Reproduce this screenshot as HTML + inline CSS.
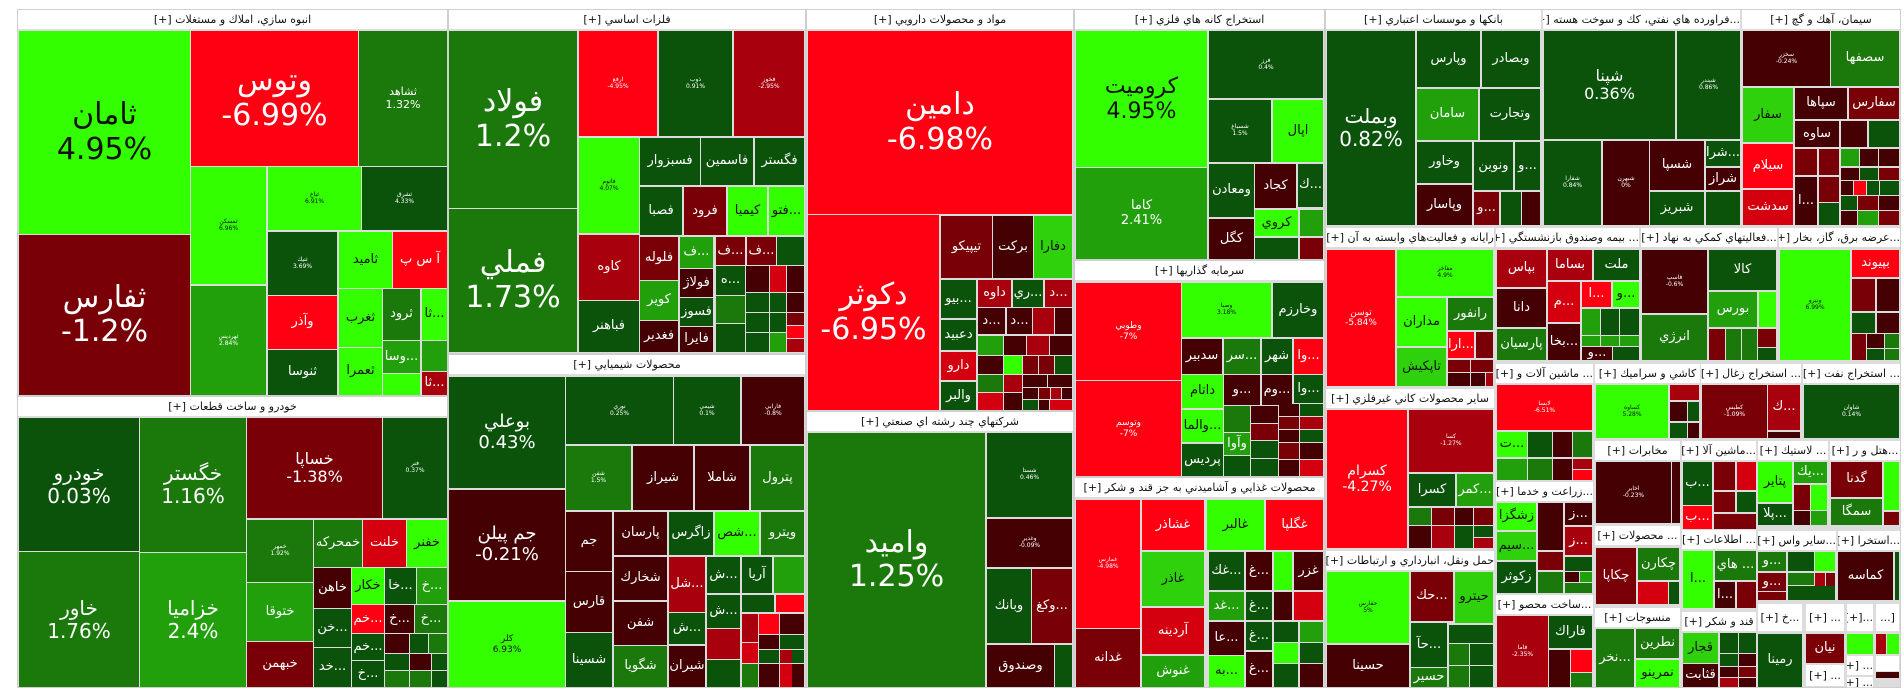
<!DOCTYPE html>
<html><head><meta charset="utf-8">
<style>
body{margin:0;width:1904px;height:698px;background:#fff;position:relative;overflow:hidden;font-family:"DejaVu Sans","Liberation Sans",sans-serif}
.s{position:absolute;background:#dcdcdc;border:1px solid #cfcfcf;box-sizing:border-box}
.h{position:absolute;background:#fff;color:#111;font-size:11px;text-align:center;line-height:20px;height:20px;white-space:nowrap;overflow:hidden;direction:rtl;border-bottom:1px solid #ddd;box-sizing:border-box}
.t{position:absolute;display:flex;align-items:center;justify-content:center;text-align:center;color:#fff;overflow:hidden;font-size:13px;line-height:1.15;white-space:nowrap;direction:ltr}
.x{font-size:6px}.L{font-size:30px}.M{font-size:20px}.m{font-size:16px}.n{font-size:14px}.k{font-size:9px}
.b{background:#33ff00;color:#111}.g2{background:#2ed10c;color:#111}.g3{background:#22a00c}.g4{background:#1b780a}.g5{background:#0b520b}
.r1{background:#ff0013}.r2{background:#d40010}.r3{background:#a8000c}.r4{background:#7a0008}.r5{background:#450004}
</style></head><body>
<div class="s" style="left:17px;top:9px;width:431px;height:387px"></div>
<div class="s" style="left:17px;top:396px;width:431px;height:292px"></div>
<div class="s" style="left:448px;top:9px;width:358px;height:345px"></div>
<div class="s" style="left:448px;top:354px;width:358px;height:334px"></div>
<div class="s" style="left:806px;top:9px;width:268px;height:402px"></div>
<div class="s" style="left:806px;top:411px;width:268px;height:277px"></div>
<div class="s" style="left:1074px;top:9px;width:251px;height:251px"></div>
<div class="s" style="left:1074px;top:260px;width:251px;height:217px"></div>
<div class="s" style="left:1074px;top:477px;width:251px;height:211px"></div>
<div class="s" style="left:1325px;top:9px;width:576px;height:679px"></div>

<div class="h" style="left:18px;top:10px;width:429px">انبوه سازي، املاك و مستغلات [+]</div>
<div class="h" style="left:18px;top:397px;width:429px">خودرو و ساخت قطعات [+]</div>
<div class="h" style="left:449px;top:10px;width:356px">فلزات اساسي [+]</div>
<div class="h" style="left:449px;top:355px;width:356px">محصولات شيميايي [+]</div>
<div class="h" style="left:807px;top:10px;width:266px">مواد و محصولات دارويي [+]</div>
<div class="h" style="left:807px;top:412px;width:266px">شركتهاي چند رشته اي صنعتي [+]</div>
<div class="h" style="left:1075px;top:10px;width:249px">استخراج كانه هاي فلزي [+]</div>
<div class="h" style="left:1075px;top:261px;width:249px">سرمايه گذاريها [+]</div>
<div class="h" style="left:1075px;top:478px;width:249px">محصولات غذايي و آشاميدني به جز قند و شكر [+]</div>
<div class="h" style="left:1326px;top:10px;width:215px">بانكها و موسسات اعتباري [+]</div>
<div class="h" style="left:1543px;top:10px;width:197px">...فراورده هاي نفتي، كك و سوخت هسته [+]</div>
<div class="h" style="left:1742px;top:10px;width:158px">سيمان، آهك و گچ [+]</div>
<div class="h" style="left:1326px;top:228px;width:168px">رايانه و فعاليت‌هاي وابسته به آن [+]</div>
<div class="h" style="left:1326px;top:389px;width:168px">ساير محصولات كاني غيرفلزي [+]</div>
<div class="h" style="left:1326px;top:551px;width:168px">حمل ونقل، انبارداري و ارتباطات [+]</div>
<div class="h" style="left:1496px;top:228px;width:143px">... بيمه وصندوق بازنشستگي [+]</div>
<div class="h" style="left:1641px;top:228px;width:136px">...فعاليتهاي كمكي به نهاد [+]</div>
<div class="h" style="left:1779px;top:228px;width:121px">...عرضه برق، گاز، بخار [+]</div>
<div class="h" style="left:1496px;top:364px;width:97px">... ماشين آلات و [+]</div>
<div class="h" style="left:1595px;top:364px;width:105px">كاشي و سراميك [+]</div>
<div class="h" style="left:1701px;top:364px;width:100px">... استخراج زغال [+]</div>
<div class="h" style="left:1803px;top:364px;width:97px">... استخراج نفت [+]</div>
<div class="h" style="left:1496px;top:482px;width:97px">...زراعت و خدما [+]</div>
<div class="h" style="left:1496px;top:595px;width:97px">...ساخت محصو [+]</div>
<div class="h" style="left:1595px;top:441px;width:85px">مخابرات [+]</div>
<div class="h" style="left:1595px;top:526px;width:85px">... محصولات [+]</div>
<div class="h" style="left:1595px;top:608px;width:85px">منسوجات [+]</div>
<div class="h" style="left:1682px;top:441px;width:74px">...ماشين آلا [+]</div>
<div class="h" style="left:1682px;top:530px;width:74px">... اطلاعات [+]</div>
<div class="h" style="left:1682px;top:612px;width:74px">قند و شكر [+]</div>
<div class="h" style="left:1758px;top:441px;width:70px">... لاستيك [+]</div>
<div class="h" style="left:1830px;top:441px;width:70px">...هتل و ر [+]</div>
<div class="h" style="left:1758px;top:531px;width:78px">...ساير واس [+]</div>
<div class="h" style="left:1838px;top:531px;width:62px">...استخرا [+]</div>
<div class="h" style="left:1758px;top:604px;width:44px;height:28px;line-height:28px">...خ [+]</div>
<div class="h" style="left:1806px;top:604px;width:38px;height:28px;line-height:28px">... [+]</div>
<div class="h" style="left:1847px;top:604px;width:26px;height:28px;line-height:28px">...[+]</div>
<div class="h" style="left:1876px;top:604px;width:23px;height:28px;line-height:28px">[...</div>
<div class="h" style="left:1806px;top:665px;width:38px;height:22px;line-height:22px">... [+]</div>
<div class="h" style="left:1847px;top:656px;width:26px;height:20px">... [+]</div>
<div class="h" style="left:1847px;top:677px;width:26px;height:11px;line-height:11px">... [+]</div>
<div class="h" style="left:1876px;top:656px;width:23px;height:16px"></div>

<div class="t b L" style="left:19px;top:31px;width:171px;height:203px">ثامان<br>4.95%</div>
<div class="t r4 L" style="left:19px;top:235px;width:171px;height:160px">ثفارس<br>-1.2%</div>
<div class="t r1 L" style="left:191px;top:31px;width:167px;height:135px">وتوس<br>-6.99%</div>
<div class="t g4 k" style="left:359px;top:31px;width:88px;height:135px;font-size:11px">ثشاهد<br>1.32%</div>
<div class="t b x" style="left:191px;top:167px;width:75px;height:117px">ثمسكن<br>6.96%</div>
<div class="t g3 x" style="left:191px;top:286px;width:75px;height:109px">ثهرديس<br>2.84%</div>
<div class="t b x" style="left:268px;top:167px;width:93px;height:63px">ثباغ<br>6.91%</div>
<div class="t g5 x" style="left:362px;top:167px;width:85px;height:63px">ثشرق<br>4.33%</div>
<div class="t g5 x" style="left:268px;top:232px;width:69px;height:63px">ثنيك<br>3.69%</div>
<div class="t b" style="left:339px;top:232px;width:53px;height:56px">ثاميد</div>
<div class="t r1" style="left:393px;top:232px;width:54px;height:56px">آ س پ</div>
<div class="t r1" style="left:268px;top:296px;width:69px;height:53px">وآذر</div>
<div class="t g5" style="left:268px;top:350px;width:69px;height:45px">ثنوسا</div>
<div class="t b" style="left:339px;top:289px;width:43px;height:58px">ثغرب</div>
<div class="t b" style="left:339px;top:348px;width:43px;height:47px">ثعمرا</div>
<div class="t g4" style="left:383px;top:289px;width:37px;height:51px">ثرود</div>
<div class="t b" style="left:422px;top:289px;width:25px;height:51px">ثا...</div>
<div class="t g3" style="left:383px;top:341px;width:37px;height:32px">وسا...</div>
<div class="t g3" style="left:422px;top:341px;width:25px;height:30px"></div>
<div class="t b" style="left:383px;top:374px;width:37px;height:21px"></div>
<div class="t r3" style="left:422px;top:372px;width:25px;height:23px">ثا...</div>
<div class="t g5 M" style="left:19px;top:418px;width:120px;height:133px">خودرو<br>0.03%</div>
<div class="t g4 M" style="left:19px;top:552px;width:120px;height:135px">خاور<br>1.76%</div>
<div class="t g4 M" style="left:140px;top:418px;width:106px;height:134px">خگستر<br>1.16%</div>
<div class="t g3 M" style="left:140px;top:553px;width:106px;height:134px">خزاميا<br>2.4%</div>
<div class="t r4 m" style="left:247px;top:418px;width:135px;height:100px">خساپا<br>-1.38%</div>
<div class="t g5 x" style="left:383px;top:418px;width:64px;height:100px">فنر<br>0.37%</div>
<div class="t g4 x" style="left:247px;top:520px;width:66px;height:62px">خمهر<br>1.92%</div>
<div class="t g3" style="left:247px;top:583px;width:66px;height:58px">ختوقا</div>
<div class="t r4" style="left:247px;top:642px;width:66px;height:45px">خبهمن</div>
<div class="t g4" style="left:314px;top:520px;width:48px;height:47px">خمحركه</div>
<div class="t r2" style="left:363px;top:520px;width:43px;height:47px">خلنت</div>
<div class="t b" style="left:407px;top:520px;width:40px;height:47px">خفنر</div>
<div class="t r5" style="left:314px;top:568px;width:37px;height:40px">خاهن</div>
<div class="t b" style="left:352px;top:568px;width:32px;height:36px">خكار</div>
<div class="t g5" style="left:385px;top:568px;width:31px;height:36px">خا...</div>
<div class="t g3" style="left:417px;top:568px;width:30px;height:36px">خ...</div>
<div class="t g5" style="left:314px;top:609px;width:37px;height:38px">خن...</div>
<div class="t r1" style="left:352px;top:605px;width:32px;height:28px">خم...</div>
<div class="t r5" style="left:385px;top:605px;width:29px;height:28px">خ...</div>
<div class="t g4" style="left:415px;top:605px;width:32px;height:28px">خ...</div>
<div class="t g5" style="left:314px;top:648px;width:37px;height:39px">خد...</div>
<div class="t g5" style="left:352px;top:634px;width:32px;height:26px">خم...</div>
<div class="t g5" style="left:352px;top:661px;width:32px;height:26px">خ...</div>
<div class="t r5" style="left:385px;top:634px;width:24px;height:19px"></div>
<div class="t g5" style="left:410px;top:634px;width:18px;height:19px"></div>
<div class="t g4" style="left:429px;top:634px;width:18px;height:19px"></div>
<div class="t g5" style="left:385px;top:654px;width:24px;height:16px"></div>
<div class="t r5" style="left:410px;top:654px;width:21px;height:16px"></div>
<div class="t g5" style="left:432px;top:654px;width:15px;height:16px"></div>
<div class="t g4" style="left:385px;top:671px;width:24px;height:16px"></div>
<div class="t g4" style="left:410px;top:671px;width:21px;height:16px"></div>
<div class="t g5" style="left:432px;top:671px;width:15px;height:16px"></div>
<div class="t g4 L" style="left:449px;top:31px;width:128px;height:177px">فولاد<br>1.2%</div>
<div class="t g4 L" style="left:449px;top:209px;width:128px;height:143px">فملي<br>1.73%</div>
<div class="t r1 x" style="left:579px;top:31px;width:78px;height:105px">ارفع<br>-4.95%</div>
<div class="t g5 x" style="left:659px;top:31px;width:73px;height:105px">ذوب<br>0.91%</div>
<div class="t r3 x" style="left:734px;top:31px;width:70px;height:105px">فخوز<br>-2.95%</div>
<div class="t b x" style="left:579px;top:138px;width:60px;height:95px">فاتوم<br>4.07%</div>
<div class="t g5" style="left:640px;top:138px;width:60px;height:47px">فسبزوار</div>
<div class="t g5" style="left:701px;top:138px;width:52px;height:47px">فاسمين</div>
<div class="t g5" style="left:755px;top:138px;width:49px;height:47px">فگستر</div>
<div class="t g5" style="left:640px;top:187px;width:42px;height:48px">فصبا</div>
<div class="t r4" style="left:684px;top:187px;width:42px;height:48px">فرود</div>
<div class="t b" style="left:728px;top:187px;width:39px;height:48px">كيميا</div>
<div class="t b" style="left:769px;top:187px;width:35px;height:48px">فتو...</div>
<div class="t r3" style="left:579px;top:235px;width:60px;height:65px">كاوه</div>
<div class="t g5" style="left:579px;top:301px;width:60px;height:51px">فباهنر</div>
<div class="t r4" style="left:640px;top:237px;width:38px;height:43px">فلوله</div>
<div class="t g3" style="left:640px;top:281px;width:38px;height:39px">كوير</div>
<div class="t r5" style="left:640px;top:321px;width:38px;height:31px">فغدير</div>
<div class="t g3" style="left:680px;top:237px;width:33px;height:31px">ف...</div>
<div class="t r5" style="left:680px;top:269px;width:33px;height:28px">فولاژ</div>
<div class="t g5" style="left:680px;top:298px;width:33px;height:28px">فسوز</div>
<div class="t r5" style="left:680px;top:327px;width:33px;height:25px">فايرا</div>
<div class="t r4" style="left:716px;top:237px;width:29px;height:28px">ف...</div>
<div class="t r4" style="left:747px;top:237px;width:29px;height:28px">ف...</div>
<div class="t g5" style="left:777px;top:237px;width:27px;height:28px"></div>
<div class="t g5" style="left:716px;top:266px;width:29px;height:29px">ه...</div>
<div class="t g4" style="left:716px;top:296px;width:29px;height:27px"></div>
<div class="t g5" style="left:716px;top:324px;width:29px;height:28px"></div>
<div class="t r5" style="left:746px;top:266px;width:23px;height:26px"></div>
<div class="t r2" style="left:770px;top:266px;width:16px;height:26px"></div>
<div class="t r5" style="left:787px;top:266px;width:17px;height:26px"></div>
<div class="t g5" style="left:746px;top:293px;width:23px;height:19px"></div>
<div class="t g5" style="left:770px;top:293px;width:16px;height:19px"></div>
<div class="t r5" style="left:787px;top:293px;width:17px;height:19px"></div>
<div class="t g5" style="left:746px;top:313px;width:23px;height:19px"></div>
<div class="t g5" style="left:770px;top:313px;width:16px;height:19px"></div>
<div class="t r4" style="left:787px;top:313px;width:17px;height:12px"></div>
<div class="t r1" style="left:787px;top:326px;width:17px;height:12px"></div>
<div class="t g5" style="left:746px;top:333px;width:23px;height:19px"></div>
<div class="t g3" style="left:770px;top:333px;width:16px;height:19px"></div>
<div class="t r3" style="left:787px;top:339px;width:17px;height:13px"></div>
<div class="t g5 M" style="left:449px;top:377px;width:116px;height:111px;font-size:18px">بوعلي<br>0.43%</div>
<div class="t r5 M" style="left:449px;top:490px;width:116px;height:110px;font-size:18px">جم پيلن<br>-0.21%</div>
<div class="t b k" style="left:449px;top:602px;width:116px;height:85px">كلر<br>6.93%</div>
<div class="t g5 x" style="left:566px;top:377px;width:107px;height:67px">نوري<br>0.25%</div>
<div class="t g5 x" style="left:674px;top:377px;width:66px;height:67px">شيمي<br>0.1%</div>
<div class="t r5 x" style="left:742px;top:377px;width:62px;height:67px">فارابي<br>-0.8%</div>
<div class="t g4 x" style="left:566px;top:446px;width:65px;height:64px">شفن<br>1.5%</div>
<div class="t r5" style="left:633px;top:446px;width:60px;height:64px">شيراز</div>
<div class="t r5" style="left:695px;top:446px;width:54px;height:64px">شاملا</div>
<div class="t g4" style="left:751px;top:446px;width:53px;height:64px">پترول</div>
<div class="t r5" style="left:566px;top:512px;width:46px;height:59px">جم</div>
<div class="t r5" style="left:566px;top:572px;width:46px;height:60px">قارس</div>
<div class="t g5" style="left:566px;top:633px;width:46px;height:54px">شسينا</div>
<div class="t r5" style="left:614px;top:512px;width:53px;height:43px">پارسان</div>
<div class="t g5" style="left:669px;top:512px;width:44px;height:43px">زاگرس</div>
<div class="t b" style="left:715px;top:512px;width:44px;height:43px">شص...</div>
<div class="t g4" style="left:761px;top:512px;width:43px;height:43px">ويترو</div>
<div class="t r5" style="left:614px;top:557px;width:53px;height:43px">شخارك</div>
<div class="t r5" style="left:614px;top:602px;width:53px;height:43px">شفن</div>
<div class="t g4" style="left:614px;top:646px;width:53px;height:41px">شگويا</div>
<div class="t r3" style="left:669px;top:557px;width:36px;height:55px">شل...</div>
<div class="t g5" style="left:669px;top:613px;width:36px;height:31px">ش...</div>
<div class="t r5" style="left:669px;top:646px;width:36px;height:41px">شيران</div>
<div class="t g5" style="left:707px;top:557px;width:33px;height:36px">ش...</div>
<div class="t g5" style="left:742px;top:557px;width:30px;height:36px">آريا</div>
<div class="t g3" style="left:774px;top:557px;width:30px;height:36px"></div>
<div class="t g5" style="left:707px;top:595px;width:33px;height:33px">ش...</div>
<div class="t g5" style="left:742px;top:595px;width:32px;height:17px"></div>
<div class="t r1" style="left:776px;top:595px;width:28px;height:17px"></div>
<div class="t r3" style="left:707px;top:629px;width:33px;height:30px"></div>
<div class="t g5" style="left:707px;top:660px;width:33px;height:27px"></div>
<div class="t r3" style="left:742px;top:614px;width:16px;height:28px"></div>
<div class="t r1" style="left:759px;top:614px;width:20px;height:20px"></div>
<div class="t r5" style="left:780px;top:614px;width:24px;height:20px"></div>
<div class="t r2" style="left:742px;top:643px;width:16px;height:20px"></div>
<div class="t r5" style="left:759px;top:635px;width:20px;height:14px"></div>
<div class="t g5" style="left:780px;top:635px;width:24px;height:14px"></div>
<div class="t g5" style="left:759px;top:650px;width:20px;height:13px"></div>
<div class="t r3" style="left:780px;top:650px;width:12px;height:13px"></div>
<div class="t g5" style="left:792px;top:650px;width:12px;height:13px"></div>
<div class="t g4" style="left:742px;top:664px;width:16px;height:23px"></div>
<div class="t r5" style="left:759px;top:664px;width:20px;height:23px"></div>
<div class="t r2" style="left:780px;top:664px;width:12px;height:23px"></div>
<div class="t r5" style="left:792px;top:664px;width:12px;height:23px"></div>
<div class="t r1 L" style="left:808px;top:31px;width:264px;height:183px">دامين<br>-6.98%</div>
<div class="t r1 L" style="left:808px;top:215px;width:131px;height:195px">دكوثر<br>-6.95%</div>
<div class="t r4" style="left:941px;top:216px;width:51px;height:62px">تيپيكو</div>
<div class="t r5" style="left:993px;top:216px;width:40px;height:62px">بركت</div>
<div class="t g2" style="left:1034px;top:216px;width:38px;height:62px">دفارا</div>
<div class="t g5" style="left:941px;top:280px;width:35px;height:38px">بيو...</div>
<div class="t g5" style="left:941px;top:320px;width:35px;height:30px">دعبيد</div>
<div class="t r2" style="left:941px;top:352px;width:35px;height:28px">دارو</div>
<div class="t g5" style="left:941px;top:382px;width:35px;height:28px">والبر</div>
<div class="t r3" style="left:978px;top:280px;width:33px;height:27px">داوه</div>
<div class="t g5" style="left:1013px;top:280px;width:30px;height:27px">ري...</div>
<div class="t r3" style="left:1045px;top:280px;width:27px;height:27px">د...</div>
<div class="t r5" style="left:978px;top:308px;width:27px;height:26px">د...</div>
<div class="t r5" style="left:1007px;top:308px;width:25px;height:26px">د...</div>
<div class="t r3" style="left:1033px;top:308px;width:21px;height:26px"></div>
<div class="t r5" style="left:1055px;top:308px;width:17px;height:26px"></div>
<div class="t g3" style="left:978px;top:336px;width:25px;height:19px"></div>
<div class="t r5" style="left:1004px;top:336px;width:22px;height:19px"></div>
<div class="t r3" style="left:1027px;top:336px;width:22px;height:19px"></div>
<div class="t r5" style="left:1050px;top:336px;width:22px;height:19px"></div>
<div class="t r5" style="left:978px;top:356px;width:25px;height:18px"></div>
<div class="t b" style="left:1004px;top:356px;width:18px;height:18px"></div>
<div class="t r4" style="left:1023px;top:356px;width:15px;height:18px"></div>
<div class="t r4" style="left:1039px;top:356px;width:15px;height:18px"></div>
<div class="t g5" style="left:1055px;top:356px;width:17px;height:18px"></div>
<div class="t g4" style="left:978px;top:375px;width:25px;height:17px"></div>
<div class="t r3" style="left:1004px;top:375px;width:18px;height:17px"></div>
<div class="t r5" style="left:1023px;top:375px;width:24px;height:12px"></div>
<div class="t r5" style="left:1048px;top:375px;width:24px;height:12px"></div>
<div class="t r2" style="left:978px;top:393px;width:25px;height:17px"></div>
<div class="t r5" style="left:1004px;top:393px;width:18px;height:17px"></div>
<div class="t r5" style="left:1023px;top:388px;width:15px;height:11px"></div>
<div class="t r4" style="left:1039px;top:388px;width:11px;height:11px"></div>
<div class="t r3" style="left:1051px;top:388px;width:10px;height:11px"></div>
<div class="t r5" style="left:1062px;top:388px;width:10px;height:11px"></div>
<div class="t g5" style="left:1023px;top:400px;width:15px;height:10px"></div>
<div class="t r5" style="left:1039px;top:400px;width:10px;height:10px"></div>
<div class="t r2" style="left:1050px;top:400px;width:22px;height:10px"></div>
<div class="t g4 L" style="left:808px;top:433px;width:177px;height:254px">واميد<br>1.25%</div>
<div class="t g5 x" style="left:987px;top:433px;width:85px;height:84px">شستا<br>0.46%</div>
<div class="t r5 x" style="left:987px;top:519px;width:85px;height:48px">وغدير<br>-0.09%</div>
<div class="t g5" style="left:987px;top:569px;width:44px;height:74px">وبانك</div>
<div class="t r4" style="left:1032px;top:569px;width:40px;height:74px">وكغ...</div>
<div class="t r5" style="left:987px;top:645px;width:67px;height:42px">وصندوق</div>
<div class="t g5" style="left:1055px;top:645px;width:17px;height:42px"></div>
<div class="t b" style="left:1076px;top:31px;width:131px;height:136px;font-size:22px">كروميت<br>4.95%</div>
<div class="t g3" style="left:1076px;top:168px;width:131px;height:91px;font-size:13px">كاما<br>2.41%</div>
<div class="t g5 x" style="left:1209px;top:31px;width:114px;height:67px">فرز<br>0.4%</div>
<div class="t g5 x" style="left:1209px;top:100px;width:62px;height:62px">شسباغ<br>1.5%</div>
<div class="t b" style="left:1273px;top:100px;width:50px;height:62px">اپال</div>
<div class="t g5" style="left:1209px;top:164px;width:45px;height:53px">ومعادن</div>
<div class="t r5" style="left:1255px;top:164px;width:41px;height:44px">كجاد</div>
<div class="t g5" style="left:1298px;top:164px;width:25px;height:43px">ك...</div>
<div class="t r5" style="left:1209px;top:219px;width:45px;height:40px">كگل</div>
<div class="t b" style="left:1255px;top:210px;width:43px;height:26px">كروي</div>
<div class="t g3" style="left:1300px;top:210px;width:23px;height:26px"></div>
<div class="t g5" style="left:1255px;top:238px;width:43px;height:21px"></div>
<div class="t r4" style="left:1300px;top:238px;width:23px;height:21px"></div>
<div class="t r1 k" style="left:1076px;top:283px;width:105px;height:97px">وطوبي<br>-7%</div>
<div class="t r1 k" style="left:1076px;top:381px;width:105px;height:95px">وتوسم<br>-7%</div>
<div class="t b x" style="left:1182px;top:283px;width:89px;height:54px">وصبا<br>3.18%</div>
<div class="t g5" style="left:1273px;top:283px;width:50px;height:54px">وخارزم</div>
<div class="t r5" style="left:1182px;top:339px;width:40px;height:35px">سدبير</div>
<div class="t g4" style="left:1224px;top:339px;width:36px;height:35px">سر...</div>
<div class="t g5" style="left:1262px;top:339px;width:30px;height:35px">شهر</div>
<div class="t r1" style="left:1294px;top:339px;width:29px;height:35px">وا...</div>
<div class="t b" style="left:1182px;top:375px;width:41px;height:33px">داتام</div>
<div class="t r5" style="left:1224px;top:375px;width:36px;height:30px">و...</div>
<div class="t r5" style="left:1262px;top:375px;width:30px;height:30px">وم...</div>
<div class="t g5" style="left:1294px;top:375px;width:29px;height:28px">وا...</div>
<div class="t b" style="left:1182px;top:410px;width:41px;height:32px">والما...</div>
<div class="t g5" style="left:1182px;top:444px;width:41px;height:32px">پرديس</div>
<div class="t g4" style="left:1224px;top:406px;width:26px;height:26px"></div>
<div class="t g3" style="left:1224px;top:433px;width:26px;height:22px">وآوا</div>
<div class="t g5" style="left:1224px;top:456px;width:26px;height:20px"></div>
<div class="t r5" style="left:1251px;top:406px;width:27px;height:17px"></div>
<div class="t r5" style="left:1279px;top:404px;width:20px;height:12px"></div>
<div class="t g5" style="left:1300px;top:404px;width:23px;height:12px"></div>
<div class="t r4" style="left:1279px;top:417px;width:20px;height:12px"></div>
<div class="t r3" style="left:1300px;top:417px;width:23px;height:12px"></div>
<div class="t r4" style="left:1251px;top:424px;width:27px;height:16px"></div>
<div class="t r5" style="left:1279px;top:430px;width:20px;height:12px"></div>
<div class="t g5" style="left:1300px;top:430px;width:23px;height:12px"></div>
<div class="t g5" style="left:1251px;top:441px;width:27px;height:17px"></div>
<div class="t r4" style="left:1279px;top:443px;width:20px;height:16px"></div>
<div class="t r5" style="left:1300px;top:443px;width:23px;height:16px"></div>
<div class="t g5" style="left:1251px;top:459px;width:27px;height:17px"></div>
<div class="t r5" style="left:1279px;top:460px;width:20px;height:16px"></div>
<div class="t r2" style="left:1300px;top:460px;width:23px;height:16px"></div>
<div class="t r1 x" style="left:1076px;top:500px;width:64px;height:128px">غمارس<br>-4.98%</div>
<div class="t r4" style="left:1076px;top:629px;width:64px;height:58px">غدانه</div>
<div class="t r1" style="left:1142px;top:500px;width:62px;height:50px">غشاذر</div>
<div class="t b" style="left:1207px;top:500px;width:57px;height:50px">غالبر</div>
<div class="t r1" style="left:1266px;top:500px;width:57px;height:50px">غگلپا</div>
<div class="t g2" style="left:1142px;top:552px;width:62px;height:54px">غاذر</div>
<div class="t r2" style="left:1142px;top:608px;width:62px;height:46px">آردينه</div>
<div class="t g3" style="left:1142px;top:656px;width:62px;height:31px">غنوش</div>
<div class="t g5" style="left:1209px;top:552px;width:35px;height:38px">غك...</div>
<div class="t r5" style="left:1246px;top:552px;width:26px;height:38px">غ...</div>
<div class="t b" style="left:1274px;top:552px;width:18px;height:38px"></div>
<div class="t r5" style="left:1294px;top:552px;width:29px;height:38px">غزر</div>
<div class="t g3" style="left:1209px;top:592px;width:35px;height:28px">غد...</div>
<div class="t g5" style="left:1246px;top:592px;width:26px;height:28px">غ...</div>
<div class="t r5" style="left:1274px;top:592px;width:18px;height:28px"></div>
<div class="t r2" style="left:1294px;top:592px;width:29px;height:28px"></div>
<div class="t r5" style="left:1209px;top:622px;width:35px;height:33px">عا...</div>
<div class="t g5" style="left:1246px;top:622px;width:26px;height:28px">غ...</div>
<div class="t g5" style="left:1274px;top:622px;width:24px;height:20px"></div>
<div class="t g3" style="left:1300px;top:622px;width:23px;height:20px"></div>
<div class="t b" style="left:1209px;top:656px;width:35px;height:31px">به...</div>
<div class="t r5" style="left:1246px;top:652px;width:26px;height:35px">غ...</div>
<div class="t b" style="left:1274px;top:643px;width:24px;height:20px"></div>
<div class="t g5" style="left:1300px;top:643px;width:23px;height:20px"></div>
<div class="t g5" style="left:1274px;top:664px;width:24px;height:23px"></div>
<div class="t r5" style="left:1300px;top:664px;width:23px;height:23px"></div>
<div class="t g5 M" style="left:1327px;top:31px;width:88px;height:194px">وبملت<br>0.82%</div>
<div class="t g5" style="left:1417px;top:31px;width:63px;height:56px">وپارس</div>
<div class="t g5" style="left:1482px;top:31px;width:58px;height:56px">وبصادر</div>
<div class="t g3" style="left:1417px;top:89px;width:61px;height:51px">سامان</div>
<div class="t g5" style="left:1480px;top:89px;width:60px;height:51px">وتجارت</div>
<div class="t g5" style="left:1417px;top:142px;width:55px;height:41px">وخاور</div>
<div class="t g5" style="left:1474px;top:142px;width:39px;height:48px">ونوين</div>
<div class="t g5" style="left:1515px;top:142px;width:25px;height:48px">و...</div>
<div class="t r5" style="left:1417px;top:185px;width:55px;height:40px">وپاسار</div>
<div class="t r4" style="left:1474px;top:192px;width:25px;height:33px">و...</div>
<div class="t g5" style="left:1501px;top:192px;width:20px;height:33px"></div>
<div class="t r5" style="left:1522px;top:192px;width:18px;height:33px"></div>
<div class="t g5 m" style="left:1544px;top:31px;width:131px;height:108px">شپنا<br>0.36%</div>
<div class="t g5 x" style="left:1677px;top:31px;width:63px;height:108px">شبندر<br>0.86%</div>
<div class="t g5 x" style="left:1544px;top:141px;width:57px;height:84px">شفارا<br>0.84%</div>
<div class="t r5 x" style="left:1603px;top:141px;width:46px;height:84px">شبهرن<br>0%</div>
<div class="t r5" style="left:1650px;top:141px;width:54px;height:49px">شسپا</div>
<div class="t g5" style="left:1650px;top:192px;width:54px;height:33px">شبريز</div>
<div class="t g5" style="left:1706px;top:141px;width:34px;height:25px">شرا...</div>
<div class="t r5" style="left:1706px;top:168px;width:34px;height:22px">شراز</div>
<div class="t g5" style="left:1706px;top:192px;width:34px;height:33px"></div>
<div class="t r5 x" style="left:1743px;top:31px;width:87px;height:55px">سخزر<br>-0.24%</div>
<div class="t g4" style="left:1831px;top:31px;width:68px;height:55px">سصفها</div>
<div class="t g2" style="left:1743px;top:88px;width:50px;height:54px">سفار</div>
<div class="t r5" style="left:1795px;top:88px;width:52px;height:31px">سپاها</div>
<div class="t r4" style="left:1849px;top:88px;width:50px;height:31px">سفارس</div>
<div class="t r5" style="left:1795px;top:121px;width:44px;height:26px">ساوه</div>
<div class="t r5" style="left:1841px;top:121px;width:26px;height:26px"></div>
<div class="t g5" style="left:1869px;top:121px;width:30px;height:26px"></div>
<div class="t r1" style="left:1743px;top:144px;width:50px;height:44px">سيلام</div>
<div class="t r2" style="left:1743px;top:190px;width:50px;height:35px">سدشت</div>
<div class="t r4" style="left:1795px;top:149px;width:22px;height:26px"></div>
<div class="t r4" style="left:1819px;top:149px;width:20px;height:26px"></div>
<div class="t g3" style="left:1841px;top:149px;width:18px;height:17px"></div>
<div class="t r5" style="left:1860px;top:149px;width:18px;height:17px"></div>
<div class="t r5" style="left:1879px;top:149px;width:20px;height:17px"></div>
<div class="t r5" style="left:1795px;top:177px;width:22px;height:48px">ا...</div>
<div class="t r4" style="left:1819px;top:177px;width:20px;height:25px"></div>
<div class="t g5" style="left:1819px;top:203px;width:20px;height:22px"></div>
<div class="t r5" style="left:1841px;top:168px;width:18px;height:12px"></div>
<div class="t g5" style="left:1860px;top:168px;width:18px;height:12px"></div>
<div class="t r4" style="left:1879px;top:168px;width:20px;height:12px"></div>
<div class="t r5" style="left:1841px;top:181px;width:12px;height:14px"></div>
<div class="t r1" style="left:1854px;top:181px;width:12px;height:14px"></div>
<div class="t g5" style="left:1867px;top:181px;width:12px;height:14px"></div>
<div class="t g5" style="left:1880px;top:181px;width:19px;height:14px"></div>
<div class="t g5" style="left:1841px;top:196px;width:16px;height:14px"></div>
<div class="t r4" style="left:1858px;top:196px;width:20px;height:14px"></div>
<div class="t r5" style="left:1879px;top:196px;width:20px;height:14px"></div>
<div class="t r5" style="left:1841px;top:211px;width:16px;height:14px"></div>
<div class="t g3" style="left:1858px;top:211px;width:20px;height:14px"></div>
<div class="t r4" style="left:1879px;top:211px;width:20px;height:14px"></div>
<div class="t r1 k" style="left:1327px;top:250px;width:68px;height:136px">توسن<br>-5.84%</div>
<div class="t b x" style="left:1397px;top:250px;width:96px;height:46px">مفاخر<br>4.9%</div>
<div class="t b" style="left:1397px;top:298px;width:49px;height:48px">مداران</div>
<div class="t g4" style="left:1448px;top:298px;width:45px;height:32px">رانفور</div>
<div class="t r1" style="left:1448px;top:332px;width:26px;height:26px">ارا...</div>
<div class="t r4" style="left:1476px;top:332px;width:17px;height:26px"></div>
<div class="t g2" style="left:1397px;top:348px;width:49px;height:38px">تاپكيش</div>
<div class="t r4" style="left:1448px;top:360px;width:22px;height:12px"></div>
<div class="t r5" style="left:1448px;top:373px;width:22px;height:13px"></div>
<div class="t r4" style="left:1471px;top:360px;width:22px;height:12px"></div>
<div class="t r5" style="left:1471px;top:373px;width:14px;height:13px"></div>
<div class="t r3" style="left:1486px;top:373px;width:7px;height:13px"></div>
<div class="t r1 n" style="left:1327px;top:410px;width:80px;height:138px">كسرام<br>-4.27%</div>
<div class="t r3 x" style="left:1409px;top:410px;width:84px;height:62px">كسا<br>-1.27%</div>
<div class="t g5" style="left:1409px;top:474px;width:46px;height:32px">كسرا</div>
<div class="t g3" style="left:1457px;top:474px;width:36px;height:32px">كمر...</div>
<div class="t g4" style="left:1409px;top:508px;width:22px;height:17px"></div>
<div class="t r4" style="left:1432px;top:508px;width:22px;height:17px"></div>
<div class="t r5" style="left:1455px;top:508px;width:18px;height:17px"></div>
<div class="t r4" style="left:1474px;top:508px;width:19px;height:17px"></div>
<div class="t r5" style="left:1409px;top:526px;width:22px;height:22px"></div>
<div class="t r3" style="left:1432px;top:526px;width:22px;height:22px"></div>
<div class="t g5" style="left:1455px;top:526px;width:18px;height:22px"></div>
<div class="t g5" style="left:1474px;top:526px;width:19px;height:11px"></div>
<div class="t r3" style="left:1474px;top:538px;width:19px;height:10px"></div>
<div class="t b x" style="left:1327px;top:572px;width:82px;height:71px">حفارس<br>5%</div>
<div class="t r5" style="left:1327px;top:645px;width:82px;height:42px">حسينا</div>
<div class="t r4" style="left:1411px;top:572px;width:42px;height:49px">حك...</div>
<div class="t g2" style="left:1455px;top:572px;width:38px;height:51px">حيترو</div>
<div class="t g5" style="left:1411px;top:623px;width:36px;height:44px">حآ...</div>
<div class="t g4" style="left:1411px;top:668px;width:36px;height:19px">حسير</div>
<div class="t g5" style="left:1449px;top:625px;width:44px;height:18px"></div>
<div class="t g4" style="left:1449px;top:644px;width:20px;height:21px"></div>
<div class="t g5" style="left:1470px;top:644px;width:23px;height:21px"></div>
<div class="t g4" style="left:1449px;top:666px;width:20px;height:21px"></div>
<div class="t g5" style="left:1470px;top:666px;width:23px;height:21px"></div>
<div class="t r3" style="left:1497px;top:250px;width:49px;height:37px">بپاس</div>
<div class="t r3" style="left:1548px;top:250px;width:44px;height:30px">بساما</div>
<div class="t g5" style="left:1594px;top:250px;width:45px;height:30px">ملت</div>
<div class="t r5" style="left:1497px;top:289px;width:49px;height:38px">دانا</div>
<div class="t g4" style="left:1497px;top:329px;width:49px;height:31px">پارسيان</div>
<div class="t r2" style="left:1548px;top:282px;width:32px;height:40px">م...</div>
<div class="t r1" style="left:1582px;top:282px;width:29px;height:25px">ا...</div>
<div class="t b" style="left:1613px;top:282px;width:26px;height:25px">و...</div>
<div class="t r5" style="left:1548px;top:324px;width:32px;height:36px">بخا...</div>
<div class="t g3" style="left:1582px;top:309px;width:18px;height:26px"></div>
<div class="t g5" style="left:1601px;top:309px;width:18px;height:26px"></div>
<div class="t g5" style="left:1620px;top:309px;width:19px;height:26px"></div>
<div class="t g3" style="left:1582px;top:336px;width:18px;height:10px"></div>
<div class="t g3" style="left:1601px;top:336px;width:18px;height:10px"></div>
<div class="t g3" style="left:1620px;top:336px;width:19px;height:10px"></div>
<div class="t r5" style="left:1582px;top:347px;width:30px;height:13px">و...</div>
<div class="t g5" style="left:1613px;top:347px;width:26px;height:13px"></div>
<div class="t r5 x" style="left:1642px;top:250px;width:65px;height:63px">فاسپ<br>-0.6%</div>
<div class="t g4" style="left:1642px;top:315px;width:65px;height:45px">انرژي</div>
<div class="t g5" style="left:1709px;top:250px;width:67px;height:40px">كالا</div>
<div class="t g3" style="left:1709px;top:292px;width:48px;height:35px">بورس</div>
<div class="t b" style="left:1759px;top:292px;width:17px;height:35px"></div>
<div class="t r4" style="left:1709px;top:329px;width:16px;height:31px"></div>
<div class="t g4" style="left:1726px;top:329px;width:15px;height:31px"></div>
<div class="t g4" style="left:1742px;top:329px;width:15px;height:31px"></div>
<div class="t r4" style="left:1758px;top:329px;width:18px;height:18px"></div>
<div class="t g5" style="left:1758px;top:348px;width:18px;height:12px"></div>
<div class="t b x" style="left:1780px;top:250px;width:70px;height:110px">ونيرو<br>6.99%</div>
<div class="t r1" style="left:1852px;top:250px;width:47px;height:27px">بپيوند</div>
<div class="t r4" style="left:1852px;top:279px;width:23px;height:32px"></div>
<div class="t r5" style="left:1877px;top:279px;width:22px;height:32px"></div>
<div class="t g5" style="left:1852px;top:313px;width:23px;height:20px"></div>
<div class="t r5" style="left:1877px;top:313px;width:22px;height:20px"></div>
<div class="t r4" style="left:1852px;top:334px;width:14px;height:26px"></div>
<div class="t r5" style="left:1867px;top:334px;width:17px;height:14px"></div>
<div class="t g4" style="left:1885px;top:334px;width:14px;height:14px"></div>
<div class="t g5" style="left:1867px;top:349px;width:17px;height:11px"></div>
<div class="t g4" style="left:1885px;top:349px;width:14px;height:11px"></div>
<div class="t r1 x" style="left:1497px;top:385px;width:95px;height:45px">لابسا<br>-6.51%</div>
<div class="t b" style="left:1497px;top:432px;width:30px;height:25px">ت...</div>
<div class="t g5" style="left:1528px;top:432px;width:24px;height:25px"></div>
<div class="t r5" style="left:1553px;top:432px;width:19px;height:25px"></div>
<div class="t g4" style="left:1573px;top:432px;width:19px;height:25px"></div>
<div class="t g3" style="left:1497px;top:459px;width:30px;height:21px"></div>
<div class="t g4" style="left:1528px;top:459px;width:24px;height:21px"></div>
<div class="t r5" style="left:1553px;top:459px;width:19px;height:21px"></div>
<div class="t r3" style="left:1573px;top:459px;width:19px;height:10px"></div>
<div class="t r1" style="left:1573px;top:470px;width:19px;height:10px"></div>
<div class="t b x" style="left:1596px;top:385px;width:72px;height:53px">كساوه<br>5.28%</div>
<div class="t r3" style="left:1670px;top:385px;width:29px;height:15px"></div>
<div class="t r5" style="left:1670px;top:402px;width:17px;height:19px"></div>
<div class="t g5" style="left:1688px;top:402px;width:11px;height:19px"></div>
<div class="t g5" style="left:1670px;top:423px;width:17px;height:15px"></div>
<div class="t r5" style="left:1688px;top:423px;width:11px;height:15px"></div>
<div class="t r4 x" style="left:1702px;top:385px;width:65px;height:53px">كطبس<br>-1.09%</div>
<div class="t r3" style="left:1768px;top:385px;width:32px;height:45px">ك...</div>
<div class="t r5" style="left:1768px;top:432px;width:32px;height:6px"></div>
<div class="t g5 x" style="left:1804px;top:385px;width:95px;height:53px">شاوان<br>0.14%</div>
<div class="t b" style="left:1497px;top:503px;width:39px;height:27px">زشگزا</div>
<div class="t g2" style="left:1497px;top:532px;width:39px;height:28px">سيم...</div>
<div class="t g5" style="left:1497px;top:562px;width:39px;height:31px">زكوثر</div>
<div class="t r5" style="left:1538px;top:503px;width:25px;height:47px"></div>
<div class="t r5" style="left:1565px;top:503px;width:27px;height:22px">ز...</div>
<div class="t r3" style="left:1565px;top:527px;width:27px;height:28px">ز...</div>
<div class="t r4" style="left:1538px;top:552px;width:25px;height:18px"></div>
<div class="t g5" style="left:1565px;top:557px;width:27px;height:14px"></div>
<div class="t g4" style="left:1538px;top:572px;width:25px;height:21px"></div>
<div class="t r5" style="left:1565px;top:572px;width:14px;height:10px"></div>
<div class="t g3" style="left:1580px;top:572px;width:12px;height:10px"></div>
<div class="t g4" style="left:1565px;top:583px;width:27px;height:10px"></div>
<div class="t r3 x" style="left:1497px;top:616px;width:51px;height:71px">فاما<br>-2.35%</div>
<div class="t g5" style="left:1549px;top:616px;width:43px;height:32px">فاراك</div>
<div class="t r5" style="left:1549px;top:650px;width:21px;height:37px"></div>
<div class="t r1" style="left:1571px;top:650px;width:21px;height:22px"></div>
<div class="t g4" style="left:1571px;top:673px;width:21px;height:14px"></div>
<div class="t r5 x" style="left:1596px;top:462px;width:75px;height:61px">اخابر<br>-0.23%</div>
<div class="t r5" style="left:1672px;top:462px;width:8px;height:61px"></div>
<div class="t r4" style="left:1596px;top:548px;width:40px;height:56px">چكاپا</div>
<div class="t g4" style="left:1638px;top:548px;width:41px;height:32px">چكارن</div>
<div class="t r2" style="left:1638px;top:582px;width:30px;height:22px"></div>
<div class="t g5" style="left:1669px;top:582px;width:10px;height:22px"></div>
<div class="t g4" style="left:1596px;top:629px;width:38px;height:58px">نخر...</div>
<div class="t g4" style="left:1636px;top:629px;width:43px;height:29px">نطرين</div>
<div class="t b" style="left:1636px;top:660px;width:43px;height:27px">نمرينو</div>
<div class="t g5" style="left:1683px;top:462px;width:29px;height:43px">ب...</div>
<div class="t r1" style="left:1683px;top:506px;width:29px;height:23px">ب...</div>
<div class="t r4" style="left:1714px;top:462px;width:21px;height:28px"></div>
<div class="t r2" style="left:1737px;top:462px;width:19px;height:28px"></div>
<div class="t r4" style="left:1714px;top:492px;width:21px;height:20px"></div>
<div class="t g5" style="left:1737px;top:492px;width:19px;height:20px"></div>
<div class="t r4" style="left:1714px;top:514px;width:42px;height:15px"></div>
<div class="t b" style="left:1683px;top:551px;width:30px;height:57px">ا...</div>
<div class="t g4" style="left:1715px;top:551px;width:41px;height:29px">هاي ...</div>
<div class="t r5" style="left:1715px;top:582px;width:20px;height:26px">ا...</div>
<div class="t r4" style="left:1737px;top:582px;width:19px;height:26px"></div>
<div class="t g2" style="left:1683px;top:633px;width:35px;height:30px">قجار</div>
<div class="t r5" style="left:1683px;top:664px;width:35px;height:23px">قثابت</div>
<div class="t g5" style="left:1720px;top:633px;width:18px;height:20px"></div>
<div class="t g5" style="left:1739px;top:633px;width:17px;height:20px"></div>
<div class="t g5" style="left:1720px;top:654px;width:18px;height:12px"></div>
<div class="t r5" style="left:1739px;top:654px;width:17px;height:12px"></div>
<div class="t r5" style="left:1720px;top:667px;width:18px;height:10px"></div>
<div class="t r4" style="left:1739px;top:667px;width:17px;height:10px"></div>
<div class="t r3" style="left:1720px;top:678px;width:18px;height:9px"></div>
<div class="t r5" style="left:1739px;top:678px;width:17px;height:9px"></div>
<div class="t b" style="left:1758px;top:462px;width:34px;height:40px">پتاير</div>
<div class="t g5" style="left:1758px;top:504px;width:34px;height:21px">پلا...</div>
<div class="t g3" style="left:1794px;top:462px;width:33px;height:21px">يك...</div>
<div class="t r4" style="left:1794px;top:485px;width:16px;height:25px"></div>
<div class="t b" style="left:1811px;top:485px;width:16px;height:25px"></div>
<div class="t r5" style="left:1794px;top:511px;width:16px;height:14px"></div>
<div class="t g3" style="left:1811px;top:511px;width:16px;height:14px"></div>
<div class="t g4" style="left:1758px;top:552px;width:28px;height:19px">و...</div>
<div class="t g5" style="left:1788px;top:552px;width:26px;height:19px"></div>
<div class="t b" style="left:1815px;top:552px;width:20px;height:19px"></div>
<div class="t r4" style="left:1758px;top:573px;width:28px;height:18px">و...</div>
<div class="t g4" style="left:1788px;top:573px;width:26px;height:12px"></div>
<div class="t r3" style="left:1815px;top:573px;width:10px;height:18px"></div>
<div class="t r4" style="left:1826px;top:573px;width:9px;height:18px"></div>
<div class="t r4" style="left:1758px;top:592px;width:28px;height:8px"></div>
<div class="t g5" style="left:1788px;top:586px;width:47px;height:14px"></div>
<div class="t r4" style="left:1831px;top:462px;width:51px;height:35px">گدنا</div>
<div class="t g4" style="left:1831px;top:499px;width:51px;height:26px">سمگا</div>
<div class="t b" style="left:1884px;top:462px;width:15px;height:48px"></div>
<div class="t r4" style="left:1884px;top:512px;width:15px;height:13px"></div>
<div class="t r5" style="left:1838px;top:552px;width:55px;height:48px">كماسه</div>
<div class="t g5" style="left:1895px;top:552px;width:4px;height:48px"></div>
<div class="t g5" style="left:1758px;top:634px;width:44px;height:53px">رمينا</div>
<div class="t r4" style="left:1806px;top:634px;width:38px;height:29px">نيان</div>
<div class="t b" style="left:1847px;top:634px;width:26px;height:20px"></div>
<div class="t r3" style="left:1876px;top:634px;width:10px;height:20px"></div>
<div class="t b" style="left:1887px;top:634px;width:12px;height:20px"></div>
<div class="t r5" style="left:1876px;top:672px;width:23px;height:6px"></div>
</body></html>
